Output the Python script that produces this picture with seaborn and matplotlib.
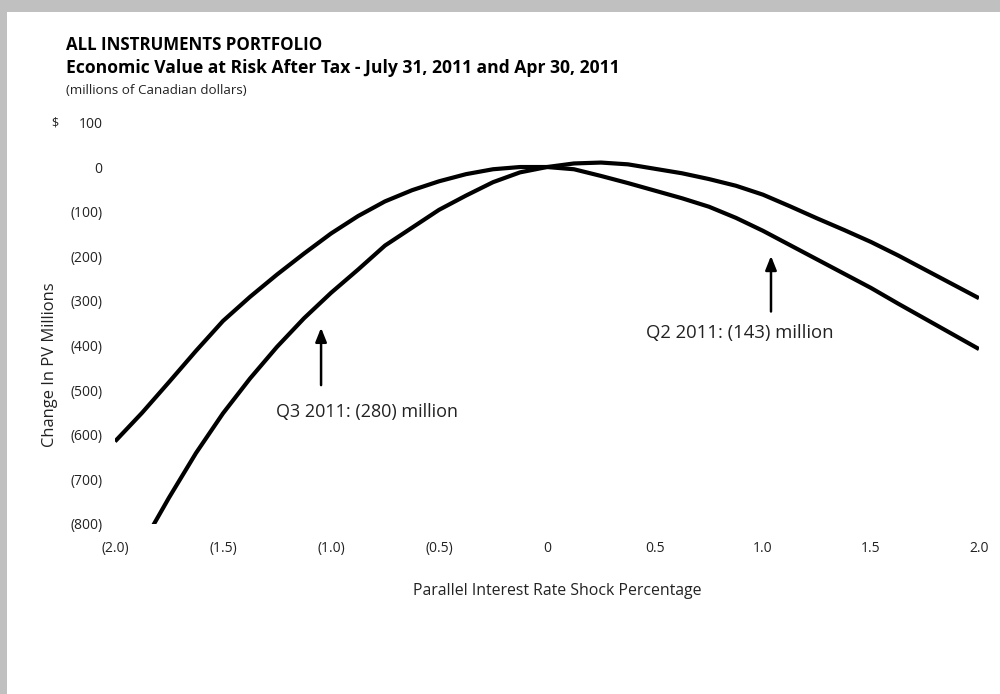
import numpy as np
import pandas as pd
import seaborn as sns
import matplotlib.pyplot as plt
from matplotlib.patches import Rectangle

sns.set_theme(style="white")
plt.rcParams['font.family'] = ['Open Sans', 'DejaVu Sans']

# parallel rate shock (percentage points)
shock = [-2.0, -1.875, -1.75, -1.625, -1.5, -1.375, -1.25, -1.125, -1.0,
         -0.875, -0.75, -0.625, -0.5, -0.375, -0.25, -0.125, 0.0,
         0.125, 0.25, 0.375, 0.5, 0.625, 0.75, 0.875, 1.0,
         1.125, 1.25, 1.375, 1.5, 1.625, 1.75, 1.875, 2.0]
# change in PV, millions of CAD
q3_2011 = [-950, -847, -741, -641, -552, -474, -403, -339, -282,
           -230, -176, -136, -96, -64, -34, -12, 0,
           8, 10, 6, -4, -14, -27, -42, -62,
           -88, -115, -141, -168, -198, -230, -262, -294]
q2_2011 = [-615, -551, -482, -412, -345, -291, -241, -194, -149,
           -110, -77, -52, -32, -16, -5, 0, 0,
           -5, -20, -36, -53, -70, -89, -114, -143,
           -175, -207, -239, -271, -306, -340, -374, -408]

x_ticks = [-2.0, -1.5, -1.0, -0.5, 0.0, 0.5, 1.0, 1.5, 2.0]
x_labels = ['(2.0)', '(1.5)', '(1.0)', '(0.5)', '0', '0.5', '1.0', '1.5', '2.0']
y_ticks = [100, 0, -100, -200, -300, -400, -500, -600, -700, -800]
y_labels = ['100', '0', '(100)', '(200)', '(300)', '(400)', '(500)',
            '(600)', '(700)', '(800)']

df = pd.DataFrame({
    'Shock': shock * 2,
    'Change': q3_2011 + q2_2011,
    'Quarter': ['Q3 2011'] * len(shock) + ['Q2 2011'] * len(shock),
})

fig = plt.figure(figsize=(10, 6.94), dpi=100)
fig.patch.set_facecolor('#c0c0c0')
fig.patches.append(Rectangle((0.007, 0), 0.993, 1 - 12 / 694,
                             transform=fig.transFigure, facecolor='white',
                             edgecolor='none', zorder=-5))

ax = fig.add_axes([0.115, 1 - 524 / 694, 0.864, (524 - 122.4) / 694])
ax.set_facecolor('none')

sns.lineplot(data=df, x='Shock', y='Change', hue='Quarter',
             palette={'Q3 2011': 'black', 'Q2 2011': 'black'},
             linewidth=3, legend=False, ax=ax, sort=True)
for ln in ax.lines:
    ln.set_solid_joinstyle('round')
    ln.set_solid_capstyle('butt')

ax.set_xlim(-2.0, 2.0)
ax.set_ylim(-800, 100)
for s in ax.spines.values():
    s.set_visible(False)

ax.set_xticks(x_ticks)
ax.set_xticklabels(x_labels)
ax.set_yticks(y_ticks)
ax.set_yticklabels(y_labels)
ax.tick_params(axis='both', length=0, labelsize=10, colors='#222222')
ax.tick_params(axis='x', pad=12.5)
ax.tick_params(axis='y', pad=9)

ax.set_xlabel('Parallel Interest Rate Shock Percentage', fontsize=11.4,
              color='#222222', va='center', ha='center')
ax.xaxis.set_label_coords(0.5116, -0.167)
ax.set_ylabel('Change In PV Millions', fontsize=11.9, color='#222222',
              va='center', ha='center')
ax.yaxis.set_label_coords(-0.0752, 0.396)

# annotations
arrow = dict(arrowstyle='-|>,head_width=0.28,head_length=0.7',
             color='black', lw=1.8)
ax.annotate('', xy=(-1.046, -354), xytext=(-1.046, -495), arrowprops=arrow)
ax.text(-0.833, -549, 'Q3 2011: (280) million', ha='center', va='center',
        fontsize=13, color='#222222')
ax.annotate('', xy=(1.037, -193), xytext=(1.037, -330), arrowprops=arrow)
ax.text(0.894, -372, 'Q2 2011: (143) million', ha='center', va='center',
        fontsize=13.3, color='#222222')

# titles
fig.text(0.066, 1 - 45 / 694, 'ALL INSTRUMENTS PORTFOLIO', fontsize=12.2,
         fontweight='bold', va='center', color='black')
fig.text(0.066, 1 - 68 / 694,
         'Economic Value at Risk After Tax - July 31, 2011 and Apr 30, 2011',
         fontsize=12.6, fontweight='bold', va='center', color='black')
fig.text(0.066, 1 - 90 / 694, '(millions of Canadian dollars)', fontsize=9.6,
         va='center', color='#222222')
fig.text(0.051, 1 - 123 / 694, '$', fontsize=9, va='center', color='#222222')

fig.savefig('out.png', dpi=100, facecolor=fig.get_facecolor())
